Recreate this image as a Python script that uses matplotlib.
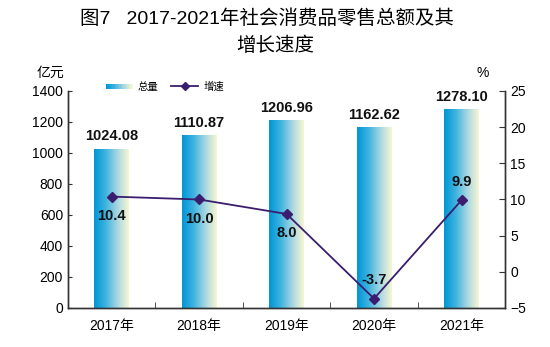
import numpy as np
import matplotlib
matplotlib.use("Agg")
import matplotlib.pyplot as plt
from matplotlib.colors import LinearSegmentedColormap
from matplotlib.legend_handler import HandlerBase
from matplotlib.patches import Rectangle
from matplotlib.lines import Line2D

plt.rcParams['font.family'] = ['Liberation Sans', 'Noto Sans CJK SC', 'DejaVu Sans']

# data
years = ['2017年', '2018年', '2019年', '2020年', '2021年']
total = [1024.08, 1110.87, 1206.96, 1162.62, 1278.10]
growth = [10.4, 10.0, 8.0, -3.7, 9.9]
growth_label_below = [True, True, True, False, False]

grad = LinearSegmentedColormap.from_list(
    'bar', ['#0096d6', '#3fb3df', '#a6d6e2', '#f6f6d2'])
line_color = '#3a1d6e'
spine_color = '#333333'


class GradientHandler(HandlerBase):
    def create_artists(self, legend, orig_handle, xdescent, ydescent,
                       width, height, fontsize, trans):
        n = 20
        arts = []
        for k in range(n):
            r = Rectangle((-xdescent + width * k / n, -ydescent + height * 0.15),
                          width / n * 1.05, height * 0.7,
                          facecolor=grad(k / (n - 1)), edgecolor='none',
                          transform=trans)
            arts.append(r)
        return arts


fig = plt.figure(figsize=(5.5, 3.47), dpi=100)
ax = fig.add_axes([0.1236, 0.1124, 0.795, 0.6254])
ax2 = ax.twinx()

x = np.arange(len(years))
w = 0.4
gimg = np.linspace(0, 1, 64).reshape(1, -1)
for xi, v in zip(x, total):
    ax.imshow(gimg, cmap=grad, aspect='auto', extent=[xi - w / 2, xi + w / 2, 0, v],
              interpolation='bilinear', zorder=2)
    ax.text(xi, v + 40, '{:.2f}'.format(v), ha='center', va='bottom',
            fontsize=10.5, fontweight='bold', color='#111111')

ax.set_xlim(-0.5, len(years) - 0.5)
ax.set_ylim(0, 1400)
ax.set_yticks(range(0, 1401, 200))
ax.set_xticks(x)
ax.set_xticklabels(years)
ax.set_xticks(x[:-1] + 0.5, minor=True)
ax.tick_params(axis='x', which='major', length=0, labelsize=10, pad=8)
ax.tick_params(axis='x', which='minor', direction='in', length=4, color=spine_color)
ax.tick_params(axis='y', direction='in', length=3, labelsize=10, color=spine_color)

ax2.plot(x, growth, color=line_color, lw=1.3, marker='D', ms=5, zorder=5)
ax2.set_ylim(-5, 25)
ax2.set_yticks(range(-5, 26, 5))
ax2.tick_params(axis='y', direction='in', length=4, labelsize=10, color=spine_color)
for xi, g, below in zip(x, growth, growth_label_below):
    if below:
        ax2.annotate('{:.1f}'.format(g), (xi, g), xytext=(0, -9), textcoords='offset points',
                     ha='center', va='top', fontsize=10.5, fontweight='bold', color='#111111')
    else:
        ax2.annotate('{:.1f}'.format(g), (xi, g), xytext=(0, 8), textcoords='offset points',
                     ha='center', va='bottom', fontsize=10.5, fontweight='bold', color='#111111')

for a in (ax, ax2):
    a.spines['top'].set_visible(False)
    for s in ('left', 'right', 'bottom'):
        a.spines[s].set_color(spine_color)
        a.spines[s].set_linewidth(1)

title_font = ['Liberation Sans', 'Noto Sans CJK SC', 'DejaVu Sans']
fig.text(0.485, 0.945, '图7   2017-2021年社会消费品零售总额及其', ha='center', va='center',
         fontsize=14, family=title_font)
fig.text(0.5, 0.868, '增长速度', ha='center', va='center',
         fontsize=14, family=title_font)
fig.text(0.092, 0.79, '亿元', ha='center', va='center', fontsize=10,
         family=['Noto Sans CJK SC', 'DejaVu Sans'])
fig.text(0.878, 0.79, '%', ha='center', va='center', fontsize=10)

bar_handle = Rectangle((0, 0), 1, 1)
line_handle = Line2D([], [], color=line_color, lw=1.3, marker='D', ms=4)
fig.legend([bar_handle, line_handle], ['总量', '增速'],
           handler_map={Rectangle: GradientHandler()},
           loc='center left', bbox_to_anchor=(0.175, 0.75), ncol=2, frameon=False,
           handlelength=2.6, handletextpad=0.5, columnspacing=1.2,
           prop={'family': ['Noto Sans CJK SC', 'DejaVu Sans'], 'size': 7.5})

fig.savefig('out.png', dpi=100)
